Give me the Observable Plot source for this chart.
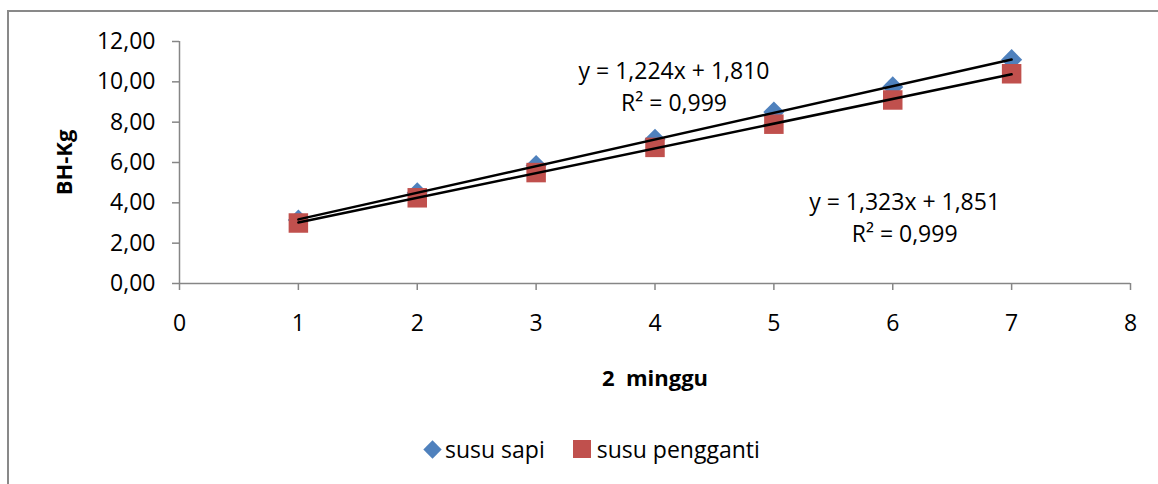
<!DOCTYPE html>
<html>
<head>
<meta charset="utf-8">
<script src="https://cdn.jsdelivr.net/npm/d3@7"></script>
<script src="https://cdn.jsdelivr.net/npm/@observablehq/plot@0.6"></script>
<style>
  html, body { margin: 0; padding: 0; background: #fff; overflow: hidden; }
  #wrap { position: relative; width: 1158px; height: 484px; overflow: hidden; font-family: "Open Sans", sans-serif; }
  #border { position: absolute; left: 7px; top: 10px; width: 1300px; height: 600px; border-left: 2px solid #898989; border-top: 2px solid #898989; }
  #chart { position: absolute; left: 0; top: 0; }
  #legend { position: absolute; left: 423px; top: 433px; display: flex; align-items: center; font-size: 23px; color: #000; white-space: nowrap; }
  .sw-d { width: 13px; height: 13px; background: #4F81BD; transform: rotate(45deg); margin: 0 6px 0 3px; }
  .sw-s { width: 18px; height: 18px; background: #C0504D; margin: 0 6px 0 28px; }
</style>
</head>
<body>
<div id="wrap">
  <div id="border"></div>
  <div id="chart"></div>
  <div id="legend"></div>
</div>
<script>
const weeks = [1, 2, 3, 4, 5, 6, 7];
const susuSapi = [3.15, 4.5, 5.85, 7.15, 8.5, 9.75, 11.1];
const susuPengganti = [3.0, 4.25, 5.5, 6.75, 7.9, 9.1, 10.4];
const seriesNames = ["susu sapi", "susu pengganti"];
const seriesColors = ["#4F81BD", "#C0504D"];
const xTicks = [0, 1, 2, 3, 4, 5, 6, 7, 8];
const yTicks = [0, 2, 4, 6, 8, 10, 12];
const xLabel = "2\u00a0 minggu";
const yLabel = "BH-Kg";
const eqTexts = ["y = 1,224x + 1,810\nR² = 0,999", "y = 1,323x + 1,851\nR² = 0,999"];
const eqX = [4.16, 6.1];
const eqY = [9.85, 3.35];

const sapi = weeks.map((w, i) => ({x: w, y: susuSapi[i]}));
const pengganti = weeks.map((w, i) => ({x: w, y: susuPengganti[i]}));
const eqs = eqTexts.map((t, i) => ({t, x: eqX[i], y: eqY[i]}));
const gray = "#868686";

const chart = Plot.plot({
  width: 1158,
  height: 400,
  marginLeft: 179,
  marginRight: 28,
  marginTop: 41,
  marginBottom: 117,
  x: {domain: [0, 8]},
  y: {domain: [0, 12]},
  style: {fontFamily: "'Open Sans', sans-serif", fontSize: "23px", color: "#000", background: "transparent"},
  marks: [
    Plot.axisY({ticks: yTicks, tickFormat: d => d.toFixed(2).replace(".", ","), tickSize: 7, tickPadding: 17, stroke: gray, strokeWidth: 1.5, label: null, fill: "#000"}),
    Plot.axisX({ticks: xTicks, tickFormat: d => String(d), tickSize: 7, tickPadding: 24, stroke: gray, strokeWidth: 1.5, label: null, fill: "#000"}),
    Plot.ruleX([0], {stroke: gray, strokeWidth: 1.5}),
    Plot.ruleY([0], {stroke: gray, strokeWidth: 1.5}),
    Plot.dot(sapi, {x: "x", y: "y", symbol: "diamond2", r: 9.5, fill: seriesColors[0], stroke: "none"}),
    Plot.dot(pengganti, {x: "x", y: "y", symbol: "square", r: 11, fill: seriesColors[1], stroke: "none"}),
    Plot.linearRegressionY(sapi, {x: "x", y: "y", ci: 0, stroke: "#000", strokeWidth: 2.5}),
    Plot.linearRegressionY(pengganti, {x: "x", y: "y", ci: 0, stroke: "#000", strokeWidth: 2.5}),
    Plot.text(eqs, {x: "x", y: "y", text: "t", textAnchor: "middle", lineHeight: 1.4, fontSize: 23, fill: "#000"}),
    Plot.text([yLabel], {frameAnchor: "left", dx: -115, rotate: -90, textAnchor: "middle", fontWeight: "bold", fontSize: 22, fill: "#000"}),
    Plot.text([xLabel], {frameAnchor: "bottom", dy: 95, lineAnchor: "middle", textAnchor: "middle", fontWeight: "bold", fontSize: 22, fill: "#000"})
  ]
});
document.getElementById("chart").appendChild(chart);

const legend = document.getElementById("legend");
seriesNames.forEach((name, i) => {
  const sw = document.createElement("span");
  sw.className = i === 0 ? "sw-d" : "sw-s";
  legend.appendChild(sw);
  const t = document.createElement("span");
  t.textContent = name;
  legend.appendChild(t);
});
</script>
</body>
</html>
